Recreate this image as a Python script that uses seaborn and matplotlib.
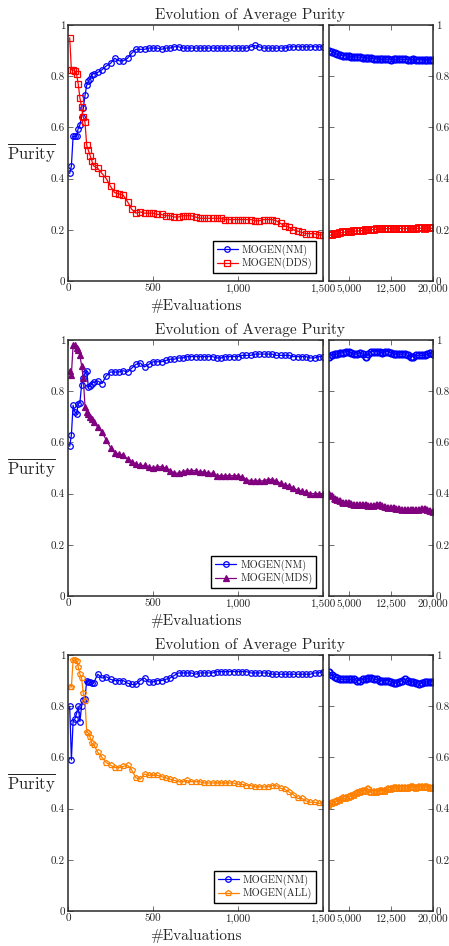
import numpy as np
import pandas as pd
import matplotlib
matplotlib.use("Agg")
import matplotlib.pyplot as plt
from matplotlib.ticker import FuncFormatter, FixedLocator
import seaborn as sns

# ---------------- data ----------------
X_LEFT = [10, 20, 30, 40, 50, 60, 70, 80, 90, 100, 110, 120, 130, 140, 150,
          175, 200, 225, 250, 275, 300, 325, 350, 375, 400, 425, 450, 475, 500,
          525, 550, 575, 600, 625, 650, 675, 700, 725, 750, 775, 800, 825, 850,
          875, 900, 925, 950, 975, 1000,
          1025, 1050, 1075, 1100, 1125, 1150, 1175, 1200, 1225, 1250, 1275, 1300,
          1325, 1350, 1375, 1400, 1425, 1450, 1475, 1500]
X_RIGHT = [1500, 2000, 2500, 3000, 3500, 4000, 4500, 5000, 5500, 6000,
           6500, 7000, 7500, 8000, 8500, 9000, 9500, 10000, 10500, 11000,
           11500, 12000, 12500, 13000, 13500, 14000, 14500, 15000, 15500, 16000,
           16500, 17000, 17500, 18000, 18500, 19000, 19500, 20000]

# Panel 1
nm1_left = [0.42, 0.45, 0.565, 0.565, 0.565, 0.595, 0.61, 0.64, 0.675, 0.725, 0.765, 0.78, 0.79, 0.805, 0.81,
            0.815, 0.825, 0.84, 0.85, 0.87, 0.86, 0.86, 0.87, 0.89, 0.905, 0.905, 0.905, 0.91, 0.91,
            0.91, 0.905, 0.91, 0.91, 0.915, 0.915, 0.91, 0.91, 0.91, 0.91, 0.91, 0.91, 0.91, 0.91, 0.91, 0.91, 0.91, 0.91, 0.91, 0.91,
            0.91, 0.91, 0.915, 0.92, 0.915, 0.91, 0.91, 0.91, 0.91, 0.91, 0.91, 0.915, 0.915, 0.915, 0.915, 0.915, 0.915, 0.915, 0.915, 0.915]
dds_left = [0.95, 0.825, 0.825, 0.82, 0.81, 0.77, 0.715, 0.68, 0.64, 0.62, 0.53, 0.51, 0.49, 0.47, 0.45,
            0.44, 0.42, 0.40, 0.37, 0.345, 0.34, 0.335, 0.31, 0.28, 0.265, 0.27, 0.265, 0.265, 0.265,
            0.26, 0.26, 0.255, 0.255, 0.25, 0.25, 0.255, 0.255, 0.255, 0.25, 0.245, 0.245, 0.245, 0.245, 0.245, 0.245, 0.24, 0.24, 0.24, 0.24,
            0.24, 0.24, 0.24, 0.235, 0.235, 0.24, 0.24, 0.24, 0.235, 0.225, 0.215, 0.21, 0.2, 0.195, 0.19, 0.185, 0.185, 0.185, 0.18, 0.18]
nm1_right = [0.9, 0.895, 0.89, 0.885, 0.882, 0.88, 0.88, 0.878, 0.876, 0.875,
             0.875, 0.874, 0.873, 0.872, 0.871, 0.87, 0.868, 0.867, 0.866, 0.866,
             0.867, 0.866, 0.865, 0.866, 0.866, 0.867, 0.866, 0.866, 0.865, 0.865,
             0.866, 0.865, 0.865, 0.864, 0.865, 0.865, 0.864, 0.865]
dds_right = [0.18, 0.178, 0.182, 0.185, 0.188, 0.19, 0.192, 0.193, 0.193, 0.195,
             0.195, 0.196, 0.197, 0.198, 0.198, 0.2, 0.201, 0.202, 0.203, 0.204,
             0.205, 0.204, 0.205, 0.205, 0.204, 0.205, 0.205, 0.205, 0.204, 0.205,
             0.205, 0.205, 0.206, 0.206, 0.205, 0.206, 0.206, 0.206]

# Panel 2
nm2_left = [0.585, 0.63, 0.745, 0.72, 0.71, 0.75, 0.755, 0.825, 0.85, 0.87, 0.88, 0.815, 0.82, 0.83, 0.835,
            0.84, 0.83, 0.86, 0.875, 0.875, 0.875, 0.88, 0.875, 0.89, 0.905, 0.91, 0.895, 0.905, 0.915,
            0.915, 0.915, 0.92, 0.925, 0.925, 0.93, 0.93, 0.935, 0.935, 0.935, 0.935, 0.935, 0.935, 0.935, 0.93, 0.93, 0.935, 0.935, 0.935, 0.935,
            0.94, 0.94, 0.94, 0.945, 0.945, 0.945, 0.945, 0.945, 0.94, 0.94, 0.94, 0.94, 0.935, 0.935, 0.935, 0.935, 0.93, 0.93, 0.935, 0.935]
mds_left = [0.88, 0.865, 0.98, 0.98, 0.97, 0.96, 0.94, 0.9, 0.85, 0.74, 0.72, 0.71, 0.70, 0.69, 0.68,
            0.66, 0.64, 0.61, 0.58, 0.56, 0.555, 0.55, 0.535, 0.525, 0.515, 0.51, 0.51, 0.505, 0.50,
            0.505, 0.505, 0.50, 0.49, 0.48, 0.48, 0.485, 0.49, 0.49, 0.49, 0.485, 0.485, 0.48, 0.48, 0.47, 0.47, 0.47, 0.47, 0.47, 0.47,
            0.465, 0.455, 0.45, 0.45, 0.45, 0.45, 0.455, 0.455, 0.45, 0.44, 0.435, 0.43, 0.42, 0.415, 0.41, 0.405, 0.4, 0.4, 0.4, 0.4]
nm2_right = [0.935, 0.94, 0.945, 0.945, 0.95, 0.95, 0.955, 0.955, 0.95, 0.945,
             0.945, 0.95, 0.945, 0.935, 0.945, 0.955, 0.955, 0.955, 0.955, 0.95,
             0.955, 0.955, 0.95, 0.945, 0.945, 0.945, 0.945, 0.945, 0.94, 0.935,
             0.935, 0.94, 0.94, 0.94, 0.94, 0.945, 0.948, 0.945]
mds_right = [0.4, 0.39, 0.38, 0.375, 0.37, 0.365, 0.365, 0.365, 0.36, 0.355,
             0.355, 0.355, 0.355, 0.355, 0.35, 0.35, 0.352, 0.355, 0.355, 0.35,
             0.348, 0.345, 0.345, 0.342, 0.34, 0.338, 0.335, 0.335, 0.335, 0.335,
             0.335, 0.335, 0.335, 0.338, 0.34, 0.335, 0.333, 0.33]

# Panel 3
nm3_left = [0.80, 0.59, 0.74, 0.75, 0.77, 0.80, 0.74, 0.80, 0.825, 0.83, 0.90, 0.895, 0.895, 0.89, 0.89,
            0.925, 0.91, 0.915, 0.905, 0.90, 0.90, 0.90, 0.89, 0.885, 0.885, 0.90, 0.91, 0.895, 0.895,
            0.90, 0.90, 0.905, 0.91, 0.92, 0.93, 0.93, 0.93, 0.93, 0.925, 0.93, 0.93, 0.93, 0.93, 0.935, 0.935, 0.935, 0.935, 0.935, 0.935,
            0.935, 0.935, 0.93, 0.93, 0.93, 0.93, 0.93, 0.925, 0.925, 0.925, 0.925, 0.925, 0.925, 0.925, 0.925, 0.925, 0.925, 0.93, 0.93, 0.935]
all_left = [0.875, 0.875, 0.98, 0.98, 0.975, 0.955, 0.925, 0.91, 0.85, 0.82, 0.70, 0.695, 0.68, 0.655, 0.65,
            0.62, 0.60, 0.58, 0.57, 0.56, 0.56, 0.565, 0.57, 0.55, 0.52, 0.515, 0.535, 0.53, 0.53,
            0.53, 0.525, 0.52, 0.515, 0.51, 0.505, 0.505, 0.51, 0.505, 0.505, 0.505, 0.50, 0.50, 0.50, 0.50, 0.50, 0.50, 0.50, 0.50, 0.495,
            0.495, 0.49, 0.49, 0.485, 0.485, 0.485, 0.485, 0.49, 0.49, 0.48, 0.475, 0.465, 0.455, 0.44, 0.44, 0.43, 0.425, 0.425, 0.42, 0.42]
nm3_right = [0.935, 0.92, 0.915, 0.91, 0.905, 0.905, 0.905, 0.905, 0.905, 0.905,
             0.9, 0.9, 0.905, 0.905, 0.91, 0.91, 0.905, 0.905, 0.9, 0.9,
             0.9, 0.9, 0.895, 0.89, 0.89, 0.895, 0.9, 0.905, 0.9, 0.895,
             0.895, 0.89, 0.885, 0.89, 0.895, 0.895, 0.895, 0.895]
all_right = [0.415, 0.42, 0.425, 0.43, 0.435, 0.44, 0.44, 0.445, 0.45, 0.455,
             0.46, 0.465, 0.47, 0.47, 0.475, 0.465, 0.465, 0.465, 0.47, 0.47,
             0.47, 0.475, 0.475, 0.48, 0.48, 0.48, 0.48, 0.48, 0.48, 0.485,
             0.485, 0.48, 0.485, 0.485, 0.485, 0.485, 0.48, 0.48]

TITLE = "Evolution of Average Purity"
XLABEL = "#Evaluations"
YLABEL = r"$\overline{\mathrm{Purity}}$"
LEFT_XTICKS = [0, 500, 1000, 1500]
RIGHT_XTICKS = [5000, 12500, 20000]
YTICKS = [0, 0.2, 0.4, 0.6, 0.8, 1.0]

panels = [
    [("MOGEN(NM)", nm1_left, nm1_right, "#0000ff", "o", False),
     ("MOGEN(DDS)", dds_left, dds_right, "#ff0000", "s", False)],
    [("MOGEN(NM)", nm2_left, nm2_right, "#0000ff", "o", False),
     ("MOGEN(MDS)", mds_left, mds_right, "#800080", "^", True)],
    [("MOGEN(NM)", nm3_left, nm3_right, "#0000ff", "o", False),
     ("MOGEN(ALL)", all_left, all_right, "#ff8000", "p", False)],
]

# ---------------- style ----------------
sns.set_style("ticks")
plt.rcParams["font.family"] = ["cmr10", "DejaVu Serif"]
plt.rcParams["mathtext.fontset"] = "cm"
plt.rcParams["axes.formatter.use_mathtext"] = True
plt.rcParams["axes.unicode_minus"] = False

W, H = 449, 946
fig = plt.figure(figsize=(W / 100, H / 100), dpi=100)

tops = [25, 340, 655]
ph = 256
lx0, lx1 = 68, 323
rx0, rx1 = 329, 433

comma = FuncFormatter(lambda v, p: f"{v:,.0f}")
yfmt = FuncFormatter(lambda v, p: f"{v:g}")
spine_col = "#2a2a2a"

for pi, series in enumerate(panels):
    top = tops[pi]
    bottom = top + ph
    axL = fig.add_axes([lx0 / W, 1 - bottom / H, (lx1 - lx0) / W, ph / H])
    axR = fig.add_axes([rx0 / W, 1 - bottom / H, (rx1 - rx0) / W, ph / H])

    for (name, yl, yr, col, mk, filled) in series:
        dfl = pd.DataFrame({"x": X_LEFT, "y": yl})
        dfr = pd.DataFrame({"x": X_RIGHT, "y": yr})
        base = dict(color=col, marker=mk, linewidth=0.9,
                    markerfacecolor=(col if filled else "none"), markeredgecolor=col,
                    estimator=None, sort=False)
        sns.lineplot(data=dfl, x="x", y="y", ax=axL, label=name,
                     markersize=4.0 if mk != "^" else 3.8, markeredgewidth=0.9, **base)
        sns.lineplot(data=dfr, x="x", y="y", ax=axR, legend=False,
                     markersize=4.6, markeredgewidth=1.3, **base)

    for ax in (axL, axR):
        ax.set_ylim(0, 1)
        ax.yaxis.set_major_locator(FixedLocator(YTICKS))
        ax.yaxis.set_major_formatter(yfmt)
        ax.tick_params(direction="in", length=3.5, width=0.6, color="#555555",
                       top=True, right=True, left=True, bottom=True,
                       labelsize=8, pad=2, labelcolor="#222222")
        for s in ax.spines.values():
            s.set_color(spine_col)
            s.set_linewidth(1.1)
        ax.set_xlabel("")
        ax.set_ylabel("")

    axL.set_xlim(0, 1500)
    axL.xaxis.set_major_locator(FixedLocator(LEFT_XTICKS))
    axL.xaxis.set_major_formatter(comma)
    axL.tick_params(labelleft=True, labelright=False)

    axR.set_xlim(1500, 20000)
    axR.xaxis.set_major_locator(FixedLocator(RIGHT_XTICKS))
    axR.xaxis.set_major_formatter(comma)
    axR.tick_params(labelleft=False, labelright=True)

    axL.set_xlabel(XLABEL, fontsize=11, va="center")
    axL.xaxis.set_label_coords(0.5, -25 / ph)
    axL.set_ylabel(YLABEL, fontsize=12, rotation=0, ha="center", va="center")
    axL.yaxis.set_label_coords((31 - lx0) / (lx1 - lx0), 0.5)

    fig.text(250 / W, 1 - (top - 10) / H, TITLE, fontsize=11,
             ha="center", va="center")

    leg = axL.legend(loc="lower right", bbox_to_anchor=(1 - 7 / 255, 8 / ph),
                     borderaxespad=0, fontsize=7.5, frameon=True, fancybox=False,
                     handlelength=2.0, handletextpad=0.4, borderpad=0.35,
                     labelspacing=0.2)
    leg.get_frame().set_edgecolor("black")
    leg.get_frame().set_linewidth(1.0)
    leg.get_frame().set_alpha(1)

fig.savefig("out.png", dpi=100)
